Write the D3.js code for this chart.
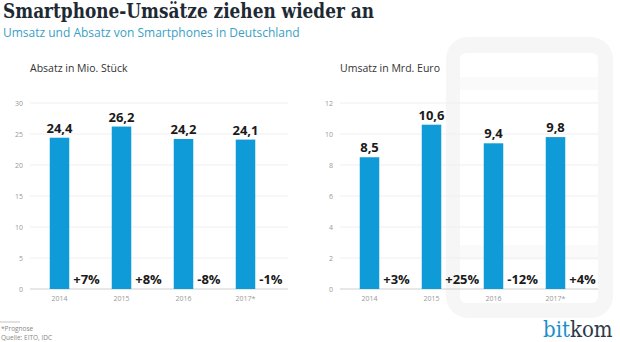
<!DOCTYPE html>
<meta charset="utf-8">
<style>
    body { margin: 0; background: #fff; }
    svg { display: block; }
    .title { font-family: "DejaVu Serif", serif; font-weight: bold; fill: #1e2a33; }
    .sans { font-family: "Open Sans", "Noto Sans", sans-serif; }
</style>
<svg width="620" height="342"></svg>
<script src="https://d3js.org/d3.v7.min.js"></script>
<script>
    // data
    var years = ["2014", "2015", "2016", "2017*"];
    var absatz = [24.4, 26.2, 24.2, 24.1];
    var absatzChange = ["+7%", "+8%", "-8%", "-1%"];
    var absatzTicks = [0, 5, 10, 15, 20, 25, 30];
    var umsatz = [8.5, 10.6, 9.4, 9.8];
    var umsatzChange = ["+3%", "+25%", "-12%", "+4%"];
    var umsatzTicks = [0, 2, 4, 6, 8, 10, 12];

    var blue = "#0f9ad8";
    var svg = d3.select("svg");
    var de = d3.formatLocale({decimal: ",", thousands: ".", grouping: [3], currency: ["", " €"]});
    var fmt = de.format(".1f");

    // phone outline in the background
    var phone = svg.append("g");
    phone.append("rect")
        .attr("x", 446).attr("y", 37)
        .attr("width", 167).attr("height", 281)
        .attr("rx", 22)
        .attr("fill", "#f6f6f6");
    phone.append("rect")
        .attr("x", 460).attr("y", 53)
        .attr("width", 138).attr("height", 250)
        .attr("rx", 6)
        .attr("fill", "#fff");
    phone.append("rect")
        .attr("x", 460).attr("y", 77)
        .attr("width", 138).attr("height", 13)
        .attr("fill", "#fafafa");
    phone.append("rect")
        .attr("x", 460).attr("y", 245)
        .attr("width", 138).attr("height", 15)
        .attr("fill", "#fafafa");

    // headline
    svg.append("text")
        .attr("class", "title")
        .attr("x", 3).attr("y", 18)
        .attr("font-size", 19.5)
        .attr("textLength", 371)
        .attr("lengthAdjust", "spacingAndGlyphs")
        .style("font-stretch", "condensed")
        .text("Smartphone-Umsätze ziehen wieder an");
    svg.append("text")
        .attr("class", "sans")
        .attr("x", 3).attr("y", 37)
        .attr("font-size", 12)
        .attr("fill", "#3a9fc4")
        .text("Umsatz und Absatz von Smartphones in Deutschland");

    function drawPanel(left, label, values, changes, ticks) {
        var g = svg.append("g").attr("transform", `translate(${left},0)`);
        var y = d3.scaleLinear()
            .domain([0, d3.max(ticks)])
            .range([289, 103]);
        var x = d3.scaleBand()
            .domain(years)
            .range([-1.5, 246.5]);
        var barW = 19.5;

        g.append("text")
            .attr("class", "sans")
            .attr("x", 0).attr("y", 72)
            .attr("font-size", 10.5)
            .attr("fill", "#333")
            .text(label);

        // grid
        g.append("g")
            .selectAll("line")
            .data(ticks)
            .enter()
            .append("line")
            .attr("x1", 0).attr("x2", 258)
            .attr("y1", d => y(d)).attr("y2", d => y(d))
            .attr("stroke", d => d === 0 ? "#cfcfcf" : "#efefef")
            .attr("stroke-width", 1);

        g.append("g")
            .selectAll("text")
            .data(ticks)
            .enter()
            .append("text")
            .attr("class", "sans")
            .attr("x", -7)
            .attr("y", d => y(d) + 2.5)
            .attr("text-anchor", "end")
            .attr("font-size", 7)
            .attr("fill", "#999")
            .text(d => d);

        var data = years.map((yr, i) => ({year: yr, value: values[i], change: changes[i]}));
        var cx = d => x(d.year) + x.bandwidth() / 2;

        g.append("g")
            .selectAll("rect")
            .data(data)
            .enter()
            .append("rect")
            .attr("x", d => cx(d) - barW / 2)
            .attr("y", d => y(d.value))
            .attr("width", barW)
            .attr("height", d => y(0) - y(d.value))
            .attr("fill", blue);

        // value above bar
        g.append("g")
            .selectAll("text")
            .data(data)
            .enter()
            .append("text")
            .attr("class", "sans")
            .attr("x", cx)
            .attr("y", d => y(d.value) - 5)
            .attr("text-anchor", "middle")
            .attr("font-size", 13)
            .attr("font-weight", "bold")
            .attr("fill", "#1a1a1a")
            .text(d => fmt(d.value));

        // change vs previous year
        g.append("g")
            .selectAll("text")
            .data(data)
            .enter()
            .append("text")
            .attr("class", "sans")
            .attr("x", d => cx(d) + barW / 2 + 4)
            .attr("y", 284)
            .attr("font-size", 13)
            .attr("font-weight", "bold")
            .attr("fill", "#1a1a1a")
            .text(d => d.change);

        g.append("g")
            .selectAll("text")
            .data(data)
            .enter()
            .append("text")
            .attr("class", "sans")
            .attr("x", cx)
            .attr("y", 301)
            .attr("text-anchor", "middle")
            .attr("font-size", 7)
            .attr("fill", "#999")
            .text(d => d.year);
    }

    drawPanel(30, "Absatz in Mio. Stück", absatz, absatzChange, absatzTicks);
    drawPanel(340, "Umsatz in Mrd. Euro", umsatz, umsatzChange, umsatzTicks);

    // footnote
    svg.append("line")
        .attr("x1", 0).attr("x2", 20)
        .attr("y1", 322).attr("y2", 322)
        .attr("stroke", "#aaa")
        .attr("stroke-width", 0.7);
    svg.append("text")
        .attr("class", "sans")
        .attr("x", 1).attr("y", 331)
        .attr("font-size", 6.5)
        .attr("fill", "#888")
        .text("*Prognose");
    svg.append("text")
        .attr("class", "sans")
        .attr("x", 1).attr("y", 340)
        .attr("font-size", 6.5)
        .attr("fill", "#888")
        .text("Quelle: EITO, IDC");

    // logo
    var logo = svg.append("text")
        .attr("x", 543).attr("y", 337)
        .attr("font-family", "DejaVu Serif, serif")
        .attr("font-size", 22)
        .style("font-stretch", "condensed");
    logo.append("tspan").attr("fill", "#1b8fcb").text("bit");
    logo.append("tspan").attr("fill", "#2b3a48").text("kom");
</script>
